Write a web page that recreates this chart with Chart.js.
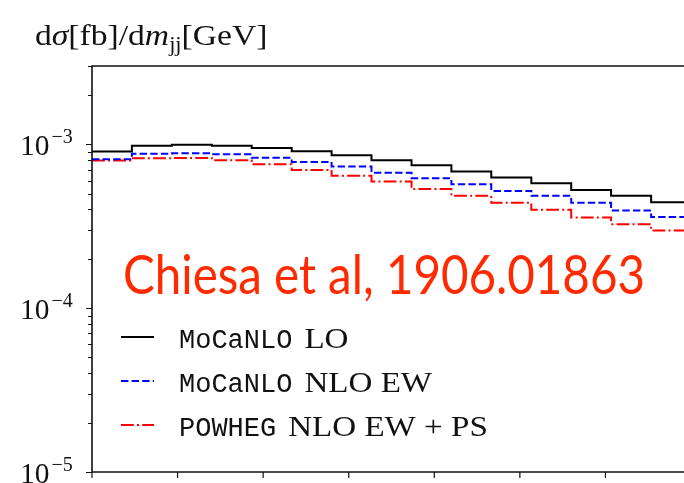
<!DOCTYPE html>
<html>
<head>
<meta charset="utf-8">
<script src="https://cdn.jsdelivr.net/npm/chart.js@4.4.1/dist/chart.umd.min.js"></script>
<style>
  html, body { margin: 0; padding: 0; background: #fff; overflow: hidden; }
  canvas { display: block; }
</style>
</head>
<body>
<canvas id="mjjChart" width="691" height="500"></canvas>
<script>
// dsigma/dm_jj, 15 bins between 500 and 4000 GeV
const binEdges = [500, 733, 967, 1200, 1433, 1667, 1900, 2133, 2367, 2600, 2833, 3067, 3300, 3533, 3767, 4000];
const loValues = [9.01e-4, 9.80e-4, 9.94e-4, 9.80e-4, 9.49e-4, 9.06e-4, 8.57e-4, 7.97e-4, 7.45e-4, 6.81e-4, 6.26e-4, 5.78e-4, 5.26e-4, 4.84e-4, 4.43e-4];
const nloEwValues = [8.10e-4, 8.73e-4, 8.81e-4, 8.69e-4, 8.28e-4, 7.80e-4, 7.30e-4, 6.70e-4, 6.20e-4, 5.70e-4, 5.19e-4, 4.84e-4, 4.40e-4, 3.94e-4, 3.59e-4];
const powhegValues = [7.94e-4, 8.22e-4, 8.25e-4, 7.99e-4, 7.55e-4, 6.97e-4, 6.43e-4, 5.92e-4, 5.32e-4, 4.84e-4, 4.40e-4, 3.98e-4, 3.57e-4, 3.25e-4, 2.97e-4];
const xTickValues = [500, 1000, 1500, 2000, 2500, 3000, 3500, 4000];
const yDecadeExponents = [-5, -4, -3];
const yMin = 1e-5;
const yMax = 3e-3;

const serifFont = '"Liberation Serif", serif';
const monoFont = '"Liberation Mono", monospace';
const serifStretch = 1.14;

// histogram as a stepped line: each value holds up to the next edge
function stepPoints(values) {
    const pts = values.map((v, i) => ({ x: binEdges[i], y: v }));
    pts.push({ x: binEdges[binEdges.length - 1], y: values[values.length - 1] });
    return pts;
}

function logTicks(min, max) {
    const ticks = [];
    for (let e = Math.floor(Math.log10(min)); e <= Math.ceil(Math.log10(max)); e++) {
        for (let s = 1; s <= 9; s++) {
            const v = s * Math.pow(10, e);
            if (v >= min * 0.999 && v <= max * 1.001) ticks.push({ value: v, major: s === 1 });
        }
    }
    return ticks;
}

// draws text with a horizontal stretch, returns the advance
function stretchedText(ctx, text, x, y, sx) {
    const w = ctx.measureText(text).width;
    ctx.save();
    ctx.translate(x, y);
    ctx.scale(sx, 1);
    ctx.fillText(text, 0, 0);
    ctx.restore();
    return w * sx;
}

const decorations = {
    id: 'decorations',
    afterDraw(chart) {
        const { ctx, chartArea: area, scales } = chart;
        const xs = scales.x, ys = scales.y;
        ctx.save();

        // frame: left, top and bottom spines
        ctx.strokeStyle = '#111';
        ctx.lineWidth = 1.6;
        ctx.beginPath();
        ctx.moveTo(area.left, area.bottom);
        ctx.lineTo(area.left, area.top);
        ctx.lineTo(area.right, area.top);
        ctx.moveTo(area.left, area.bottom);
        ctx.lineTo(area.right, area.bottom);
        ctx.stroke();

        // tick marks
        ctx.lineWidth = 1.2;
        ctx.beginPath();
        ys.ticks.forEach(t => {
            const py = Math.round(ys.getPixelForValue(t.value)) + 0.5;
            ctx.moveTo(area.left - (t.major ? 6 : 4), py);
            ctx.lineTo(area.left, py);
        });
        xs.ticks.forEach(t => {
            const px = xs.getPixelForValue(t.value);
            ctx.moveTo(px, area.bottom);
            ctx.lineTo(px, area.bottom + 6);
        });
        ctx.stroke();

        // decade labels 10^n
        ctx.fillStyle = '#111';
        ctx.textBaseline = 'alphabetic';
        yDecadeExponents.forEach(e => {
            const py = ys.getPixelForValue(Math.pow(10, e));
            ctx.font = '30px ' + serifFont;
            const adv = stretchedText(ctx, '10', 20, py + 11, 0.98);
            ctx.font = '20px ' + serifFont;
            stretchedText(ctx, '\u2212' + Math.abs(e), 20 + adv + 2, py - 1, 1.0);
        });

        // axis title
        let tx = 35;
        const ty = 45;
        const parts = [
            ['d', 'normal', 30, 0], ['\u03c3', 'italic', 30, 0], ['[fb]/d', 'normal', 30, 0],
            ['m', 'italic', 30, 0], ['jj', 'normal', 20, 6], ['[GeV]', 'normal', 30, 0]
        ];
        parts.forEach(([txt, style, size, dy]) => {
            ctx.font = style + ' ' + size + 'px ' + serifFont;
            tx += stretchedText(ctx, txt, tx, ty + dy, 1.12);
        });

        // legend
        const legendX = 121;
        const rows = [348, 392, 436];
        chart.data.datasets.forEach((ds, i) => {
            const by = rows[i];
            ctx.save();
            ctx.strokeStyle = ds.borderColor;
            ctx.lineWidth = ds.borderWidth;
            ctx.setLineDash(ds.borderDash || []);
            ctx.beginPath();
            ctx.moveTo(legendX, by - 11);
            ctx.lineTo(legendX + 33, by - 11);
            ctx.stroke();
            ctx.restore();
            ctx.fillStyle = '#111';
            ctx.font = '27px ' + monoFont;
            const adv = stretchedText(ctx, ds.codeName, legendX + 58, by, 1.0);
            ctx.font = '29px ' + serifFont;
            stretchedText(ctx, ds.orderName, legendX + 58 + adv + 12, by, serifStretch);
        });

        // citation stamp
        ctx.fillStyle = '#ff2a00';
        ctx.font = '54px Lato, sans-serif';
        const stamp = 'Chiesa et al, 1906.01863';
        const sw = ctx.measureText(stamp).width;
        stretchedText(ctx, stamp, 123, 294, 522 / sw);

        ctx.restore();
    }
};

const ctx = document.getElementById('mjjChart').getContext('2d');
new Chart(ctx, {
    type: 'line',
    data: {
        datasets: [
            {
                label: 'MoCaNLO LO', codeName: 'MoCaNLO', orderName: 'LO',
                data: stepPoints(loValues),
                borderColor: '#000000', borderWidth: 2
            },
            {
                label: 'MoCaNLO NLO EW', codeName: 'MoCaNLO', orderName: 'NLO EW',
                data: stepPoints(nloEwValues),
                borderColor: '#0000ff', borderWidth: 2, borderDash: [7.4, 3.2]
            },
            {
                label: 'POWHEG NLO EW + PS', codeName: 'POWHEG', orderName: 'NLO EW + PS',
                data: stepPoints(powhegValues),
                borderColor: '#ff0000', borderWidth: 2, borderDash: [12.8, 3.2, 2, 3.2]
            }
        ]
    },
    options: {
        responsive: false,
        animation: false,
        events: [],
        layout: { padding: { top: 66, left: 0, right: 0, bottom: 0 } },
        elements: {
            line: { stepped: true, fill: false, tension: 0, borderCapStyle: 'butt', borderJoinStyle: 'miter' },
            point: { radius: 0 }
        },
        plugins: { legend: { display: false }, tooltip: { enabled: false } },
        scales: {
            x: {
                type: 'linear', min: binEdges[0], max: binEdges[binEdges.length - 1],
                grid: { display: false }, border: { display: false },
                ticks: { display: false },
                afterBuildTicks: axis => { axis.ticks = xTickValues.map(v => ({ value: v })); },
                afterFit: axis => { axis.height = 28; }
            },
            y: {
                type: 'logarithmic', min: yMin, max: yMax,
                grid: { display: false }, border: { display: false },
                ticks: { display: false },
                afterBuildTicks: axis => { axis.ticks = logTicks(yMin, yMax); },
                afterFit: axis => { axis.width = 92; }
            }
        }
    },
    plugins: [decorations]
});
</script>
</body>
</html>
